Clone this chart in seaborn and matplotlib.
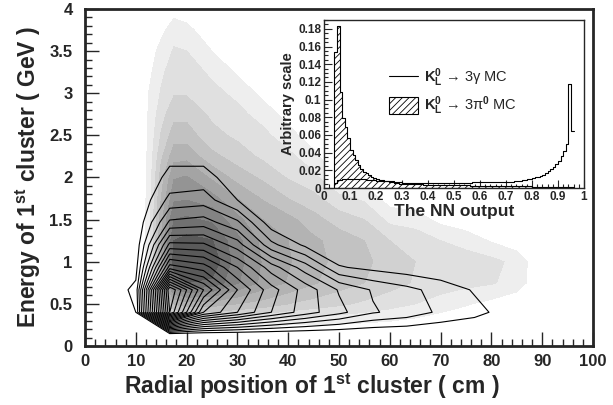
import numpy as np
import pandas as pd
import matplotlib
matplotlib.use("Agg")
import matplotlib.pyplot as plt
import seaborn as sns
from matplotlib.ticker import MultipleLocator, FuncFormatter
from matplotlib.lines import Line2D
from matplotlib.patches import Patch

# --- filled grey contours (K_L -> 3pi0 MC), columns of z along y ---
fill_x = [10, 12.5, 15, 17.5, 20, 25, 30, 35, 40, 45, 50, 55, 60, 65, 70, 75, 80, 85, 90, 95]
fill_y = [0.0, 0.25, 0.5, 0.75, 1.0, 1.25, 1.5, 1.75, 2.0, 2.25, 2.5, 2.75, 3.0, 3.25, 3.5, 3.75, 4.0]
fill_cols = [
    [0, 0, 0, 0, 0, 0, 0, 0, 0, 0, 0, 0, 0, 0, 0, 0, 0],
    [0, 0.3, 0.9, 1.2, 1.3, 1.3, 1.3, 1.25, 1.2, 1.15, 1.1, 1.05, 1.0, 0.7, 0.4, 0.1, 0],
    [0, 0.9, 3.5, 5.5, 6.0, 6.0, 5.6, 5.0, 4.5, 3.8, 3.1, 2.6, 2.1, 1.8, 1.4, 0.7, 0],
    [0, 1.3, 5.0, 9.3, 10.5, 10.0, 9.0, 7.8, 6.9, 5.6, 4.5, 3.7, 2.9, 2.5, 2.1, 1.6, 0.5],
    [0, 1.4, 5.6, 10.0, 11.0, 10.3, 9.2, 7.9, 7.1, 5.7, 4.5, 3.7, 2.9, 2.5, 2.0, 1.3, 0.4],
    [0, 1.4, 5.5, 9.8, 10.7, 10.05, 8.8, 7.4, 5.8, 4.3, 3.3, 2.8, 2.3, 1.8, 1.0, 0.3, 0],
    [0, 1.3, 5.0, 8.1, 8.4, 8.3, 7.3, 6.0, 4.6, 3.5, 2.8, 2.3, 1.75, 0.85, 0.2, 0, 0],
    [0, 1.2, 4.6, 6.7, 6.9, 6.7, 6.0, 4.9, 3.8, 2.8, 2.3, 1.6, 0.7, 0.1, 0, 0, 0],
    [0, 1.0, 4.0, 5.9, 6.1, 6.0, 5.3, 4.0, 2.9, 2.3, 1.4, 0.6, 0, 0, 0, 0, 0],
    [0, 0.9, 3.6, 5.1, 5.3, 5.2, 4.4, 3.3, 2.3, 1.3, 0.4, 0, 0, 0, 0, 0, 0],
    [0, 0.9, 3.2, 4.5, 4.75, 4.6, 3.5, 2.3, 0.8, 0, 0, 0, 0, 0, 0, 0, 0],
    [0, 0.8, 2.8, 4.0, 4.2, 4.0, 3.0, 1.8, 0.5, 0, 0, 0, 0, 0, 0, 0, 0],
    [0, 0.7, 2.4, 3.4, 3.6, 3.0, 1.7, 0.5, 0, 0, 0, 0, 0, 0, 0, 0, 0],
    [0, 0.5, 2.0, 2.9, 3.0, 2.6, 1.5, 0.3, 0, 0, 0, 0, 0, 0, 0, 0, 0],
    [0, 0.3, 1.5, 2.6, 2.75, 2.0, 0.7, 0, 0, 0, 0, 0, 0, 0, 0, 0, 0],
    [0, 0.1, 1.1, 2.3, 2.5, 1.6, 0.3, 0, 0, 0, 0, 0, 0, 0, 0, 0, 0],
    [0, 0, 0.7, 2.1, 2.3, 0.9, 0, 0, 0, 0, 0, 0, 0, 0, 0, 0, 0],
    [0, 0, 0.2, 1.6, 1.7, 0.3, 0, 0, 0, 0, 0, 0, 0, 0, 0, 0, 0],
    [0, 0, 0, 0, 0, 0, 0, 0, 0, 0, 0, 0, 0, 0, 0, 0, 0],
    [0, 0, 0, 0, 0, 0, 0, 0, 0, 0, 0, 0, 0, 0, 0, 0, 0],
]
fill_levels = [1, 2, 3, 4, 5, 6, 7, 8, 9, 10, 12]
fill_colors = ['#eeeeee', '#e0e0e0', '#d1d1d1', '#c2c2c2', '#b3b3b3',
               '#a4a4a4', '#949494', '#838383', '#717171', '#5a5a5a']

# --- line contours (K_L -> 3gamma MC), 15x15 binning ---
line_x = [3.33, 10, 16.67, 23.33, 30, 36.67, 43.33, 50, 56.67, 63.33, 70, 76.67, 83.33, 90]
line_y = [0.133, 0.4, 0.667, 0.933, 1.2, 1.467, 1.733, 2.0, 2.267, 2.533]
line_cols = [
    [0, 0, 0, 0, 0, 0, 0, 0, 0, 0],
    [0, 1.0, 1.3, 0.6, 0.3, 0.1, 0, 0, 0, 0],
    [0, 19, 20, 11.5, 7.3, 4.2, 2.3, 1.3, 0.7, 0],
    [0, 11, 14, 10.5, 7.2, 4.5, 2.5, 1.4, 0.6, 0],
    [0, 9, 10, 8, 5.5, 3.2, 1.0, 0.4, 0, 0],
    [0, 7, 7.4, 5.5, 2.3, 0.4, 0, 0, 0, 0],
    [0, 5.5, 5.6, 3.5, 0.8, 0.1, 0, 0, 0, 0],
    [0, 4.3, 3.9, 1.1, 0, 0, 0, 0, 0, 0],
    [0, 3.1, 2.9, 0.7, 0, 0, 0, 0, 0, 0],
    [0, 2.6, 2.3, 0.4, 0, 0, 0, 0, 0, 0],
    [0, 1.8, 1.6, 0.2, 0, 0, 0, 0, 0, 0],
    [0, 1.3, 0.9, 0, 0, 0, 0, 0, 0, 0],
    [0, 0.6, 0.3, 0, 0, 0, 0, 0, 0, 0],
    [0, 0, 0, 0, 0, 0, 0, 0, 0, 0],
]
line_levels = list(range(1, 20))

# --- inset: NN output histograms, 0.01 bins from 0.04 to 0.96 ---
nn_edges = [round(0.04 + 0.01 * i, 2) for i in range(93)]
pi0_counts = [
    0.154, 0.183, 0.109, 0.079, 0.069, 0.056, 0.043, 0.037, 0.032, 0.026,
    0.022, 0.018, 0.017, 0.015, 0.013, 0.011, 0.010,
    0.009, 0.0085, 0.008, 0.0075, 0.007, 0.0065, 0.006, 0.0055, 0.005,
    0.0047, 0.0046, 0.0045, 0.0044, 0.0043, 0.0042, 0.0041, 0.0040, 0.0039, 0.0038,
    0.0037, 0.0036, 0.0035, 0.0035, 0.0034, 0.0034, 0.0033, 0.0033, 0.0032, 0.0032,
    0.0031, 0.0031, 0.0030, 0.0030, 0.0029, 0.0029, 0.0028, 0.0028, 0.0027, 0.0027,
    0.0026, 0.0026, 0.0025, 0.0025, 0.0024, 0.0024, 0.0023, 0.0023, 0.0022, 0.0022,
    0.0021, 0.0021, 0.0020, 0.0020, 0.0019, 0.0019, 0.0018, 0.0018, 0.0017, 0.0017,
    0.0016, 0.0016, 0.0015, 0.0015, 0.0014, 0.0014, 0.0013, 0.0013, 0.0012, 0.0012,
    0.0011, 0.0011, 0.0010, 0.0010, 0.0010, 0.0010,
]
gamma_counts = [
    0.006, 0.0095, 0.0096, 0.0097, 0.0098, 0.0099, 0.0100, 0.0100, 0.0100, 0.0099,
    0.0098, 0.0097, 0.0096, 0.0095, 0.0094, 0.0093,
    0.0080, 0.0079, 0.0078, 0.0077, 0.0076, 0.0075, 0.0074, 0.0073, 0.0072, 0.0070,
    0.0062, 0.0062, 0.0061, 0.0061, 0.0060, 0.0060, 0.0060, 0.0060, 0.0060, 0.0060,
    0.0060, 0.0060, 0.0060, 0.0060, 0.0060, 0.0060, 0.0060, 0.0060, 0.0060, 0.0060,
    0.0060, 0.0061, 0.0061, 0.0061, 0.0062, 0.0062, 0.0062, 0.0063, 0.0063, 0.0063,
    0.0064, 0.0064, 0.0065, 0.0065, 0.0066, 0.0066, 0.0067, 0.0067, 0.0068, 0.0068,
    0.007, 0.007, 0.007, 0.008, 0.008, 0.008, 0.009, 0.009, 0.010, 0.010,
    0.011, 0.012, 0.013, 0.014, 0.015, 0.017, 0.019, 0.021, 0.024, 0.027,
    0.031, 0.036, 0.042, 0.050, 0.118, 0.064,
]
nn_centers = [round((a + b) / 2, 3) for a, b in zip(nn_edges[:-1], nn_edges[1:])]
hist_df = pd.DataFrame({'nn': nn_centers, 'pi0': pi0_counts, 'gamma': gamma_counts})

sns.set_style("ticks")
plt.rcParams['font.family'] = ['Liberation Sans', 'DejaVu Sans']
plt.rcParams['font.weight'] = 'bold'
plt.rcParams['mathtext.fontset'] = 'custom'
plt.rcParams['mathtext.rm'] = 'Liberation Sans'
plt.rcParams['mathtext.it'] = 'Liberation Sans:italic'
plt.rcParams['mathtext.bf'] = 'Liberation Sans:bold'
plt.rcParams['hatch.linewidth'] = 0.6

fig = plt.figure(figsize=(6.13, 4.05), dpi=100)
ax = fig.add_axes([0.1387, 0.1457, 0.8287, 0.8321])

Zf = np.array(fill_cols).T
ax.contourf(fill_x, fill_y, Zf, levels=fill_levels, colors=fill_colors, zorder=1)
Zl = np.array(line_cols).T
ax.contour(line_x, line_y, Zl, levels=line_levels, colors='black', linewidths=0.8, zorder=2)

fmt = FuncFormatter(lambda v, p: f"{v:g}")
ax.set_xlim(0, 100)
ax.set_ylim(0, 4)
ax.xaxis.set_major_locator(MultipleLocator(10))
ax.xaxis.set_minor_locator(MultipleLocator(2))
ax.yaxis.set_major_locator(MultipleLocator(0.5))
ax.yaxis.set_minor_locator(MultipleLocator(0.1))
ax.yaxis.set_major_formatter(fmt)
ax.tick_params(which='major', direction='in', length=10, width=1, labelsize=12)
ax.tick_params(axis='y', which='major', pad=9)
ax.tick_params(axis='x', which='major', pad=6)
ax.tick_params(which='minor', direction='in', length=5, width=1)
for s in ax.spines.values():
    s.set_linewidth(2)
ax.set_xlabel(r'Radial position of 1$^{\mathbf{st}}$ cluster ( cm )', fontsize=16.5, fontweight='bold')
ax.set_ylabel(r'Energy of 1$^{\mathbf{st}}$ cluster ( GeV )', fontsize=16.5, fontweight='bold')
ax.xaxis.set_label_coords(0.447, -0.075)
ax.yaxis.set_label_coords(-0.083, 0.5)

# --- inset ---
axin = fig.add_axes([0.5285, 0.5358, 0.4242, 0.4148])
axin.set_facecolor('white')
sns.histplot(data=hist_df, x='nn', weights='pi0', bins=nn_edges, element='step', fill=True,
             facecolor='white', edgecolor='black', hatch='/////', linewidth=0.8, alpha=1, ax=axin)
sns.histplot(data=hist_df, x='nn', weights='gamma', bins=nn_edges, element='step', fill=False,
             color='black', linewidth=0.8, ax=axin)
axin.set_xlim(0, 1)
axin.set_ylim(0, 0.19)
axin.xaxis.set_major_locator(MultipleLocator(0.1))
axin.xaxis.set_minor_locator(MultipleLocator(0.02))
axin.yaxis.set_major_locator(MultipleLocator(0.02))
axin.yaxis.set_minor_locator(MultipleLocator(0.005))
axin.xaxis.set_major_formatter(fmt)
axin.yaxis.set_major_formatter(fmt)
axin.tick_params(which='major', direction='in', length=6, width=0.8, labelsize=8.5, pad=2)
axin.tick_params(which='minor', direction='in', length=3, width=0.8)
for s in axin.spines.values():
    s.set_linewidth(1)
axin.set_xlabel('The NN output', fontsize=12.5, fontweight='bold', labelpad=1)
axin.set_ylabel('Arbitrary scale', fontsize=10.5, fontweight='bold', labelpad=2)

handles = [Line2D([0], [0], color='black', linewidth=0.8),
           Patch(facecolor='white', edgecolor='black', hatch='/////', linewidth=0.8)]
labels = [r'$\mathrm{K^0_L}$ → 3γ MC', r'$\mathrm{K^0_L}$ → 3π$^0$ MC']
axin.legend(handles, labels, loc='upper left', bbox_to_anchor=(0.2, 0.8), frameon=False,
            prop={'size': 10.5, 'weight': 'normal'}, handlelength=2.0, handleheight=1.4,
            labelspacing=0.35, handletextpad=0.4)

fig.savefig('out.png', dpi=100)
